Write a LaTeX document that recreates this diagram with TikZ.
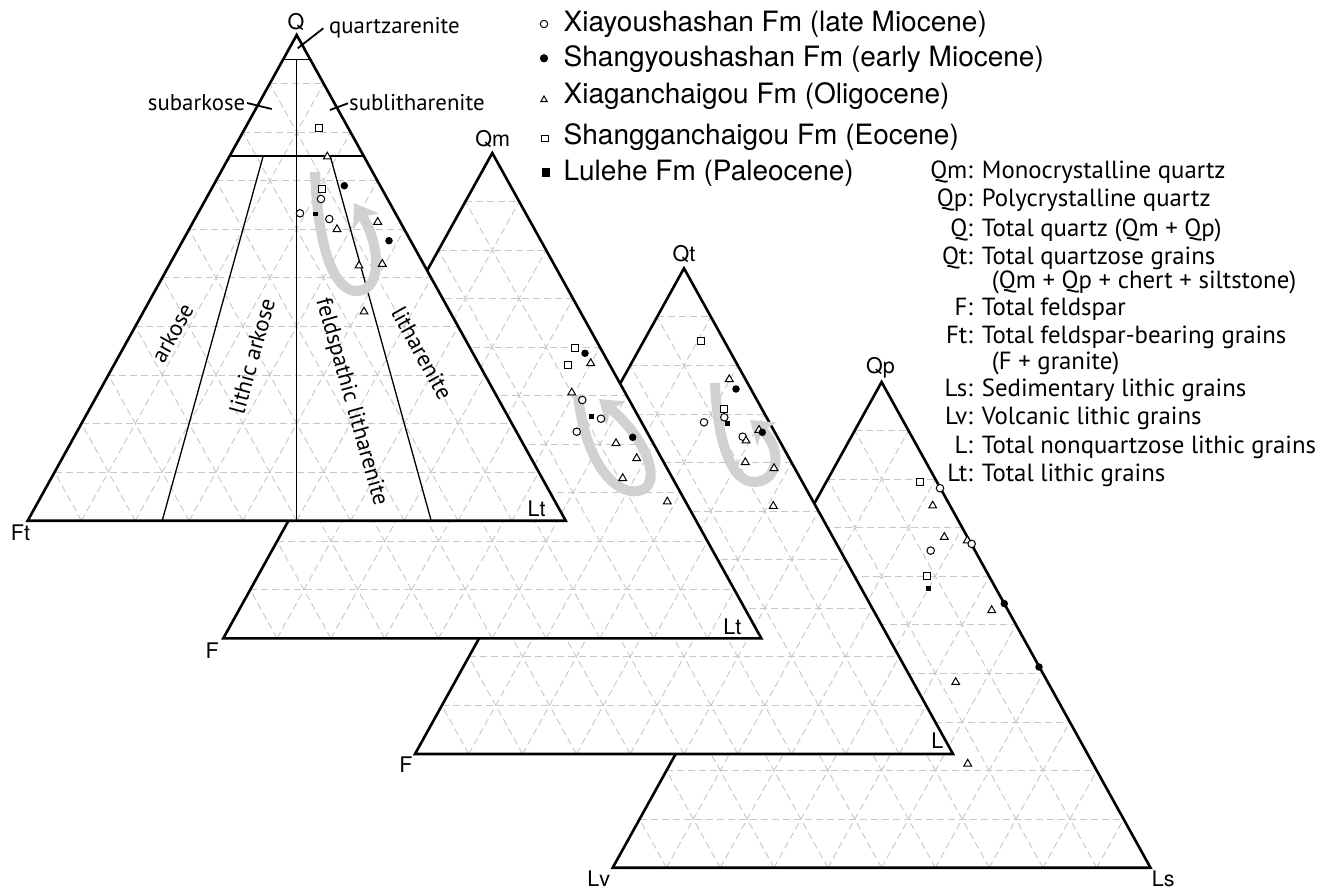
\documentclass[tikz,border=0pt]{standalone}
\usepackage{fontspec}
\setmainfont{TeX Gyre Heros}
\newfontfamily\myr{PT Sans}
\usetikzlibrary{calc,arrows.meta,shapes.geometric}
\definecolor{gridgray}{gray}{0.78}
\definecolor{arrgray}{gray}{0.82}
\tikzset{
  gridln/.style={draw=gridgray,line width=0.9pt,dash pattern=on 7pt off 4pt},
  triedge/.style={draw=black,line width=2.6pt},
  folkthin/.style={draw=black,line width=1.3pt},
  folkmid/.style={draw=black,line width=1.9pt},
  leader/.style={draw=black,line width=1.8pt},
  mkoc/.style={circle,draw,fill=white,line width=1pt,inner sep=0pt,minimum size=7.5pt},
  mkfc/.style={circle,fill=black,inner sep=0pt,minimum size=7.5pt},
  mktri/.style={regular polygon,regular polygon sides=3,draw,fill=white,line width=1pt,inner sep=0pt,minimum size=9pt},
  mksq/.style={rectangle,draw,fill=white,line width=1pt,inner sep=0pt,minimum size=7pt},
  mkfs/.style={rectangle,fill=black,inner sep=0pt,minimum size=4.5pt},
  garrow/.style={draw=arrgray,line width=10pt,-{Stealth[length=22pt 0 0,width=30pt 0 0,inset=6pt 0]}},
  vlab/.style={anchor=base,inner sep=0pt,font=\fontsize{21.5}{24}\selectfont},
  legtxt/.style={anchor=base west,inner sep=0pt,font=\fontsize{28}{32}\selectfont},
  folklab/.style={inner sep=0pt,font=\myr\fontsize{22.8}{26}\selectfont},
  glab/.style={anchor=base east,inner sep=0pt,font=\myr\fontsize{24.8}{28}\selectfont},
  gtxt/.style={anchor=base west,inner sep=0pt,font=\myr\fontsize{24.8}{28}\selectfont},
}
\newcommand\terntri[4]{%
  \coordinate (#1A) at #2;
  \coordinate (#1B) at #3;
  \coordinate (#1C) at #4;
  \fill[white] (#1A) -- (#1B) -- (#1C) -- cycle;
  \foreach \t in {0.1,0.2,0.3,0.4,0.5,0.6,0.7,0.8,0.9}{%
    \draw[gridln] ($(#1A)!\t!(#1B)$) -- ($(#1A)!\t!(#1C)$);
    \draw[gridln] ($(#1C)!\t!(#1B)$) -- ($(#1C)!\t!(#1A)$);
    \draw[gridln] ($(#1B)!\t!(#1C)$) -- ($(#1B)!\t!(#1A)$);
  }%
  \draw[triedge] (#1A) -- (#1B) -- (#1C) -- cycle;
}
\begin{document}
\begin{tikzpicture}[x=1pt,y=-1pt]
\useasboundingbox (0,0) rectangle (1336,889);

% ---------- triangle 4 (Qp - Lv - Ls), back ----------
\terntri{T4}{(881.6,382)}{(612.7,867.7)}{(1150.5,867.7)}
\foreach \s/\x/\y [count=\k] in {
  mksq/920/481.5, mktri/932.7/505.7, mktri/944.3/537.1, mktri/967.3/540.5,
  mkoc/940/488.2, mkoc/971.7/543.9, mkoc/930.7/550.6, mksq/927.3/576,
  mkfs/928.3/588.7, mkfc/1004.3/603.6, mktri/991.7/610.3, mkfc/1039/667,
  mktri/955.7/682.2, mktri/967.7/763.8}
  \node[\s] (d4p\k) at (\x,\y) {};
\node[vlab] (labQp) at (880.5,373.3) {Qp};
\node[vlab] (labLv) at (598.7,886.7) {Lv};
\node[vlab] (labLs) at (1163.3,886.3) {Ls};

% ---------- triangle 3 (Qt - F - L) ----------
\terntri{T3}{(684,268.3)}{(415,754)}{(953,754)}
\coordinate (a3s) at (715,383);
\coordinate (a3e) at (750,420);
\draw[garrow] (a3s) .. controls (718,452) and (735,484) .. (756,482) .. controls (781,479) and (781,446) .. (a3e);
\foreach \s/\x/\y [count=\k] in {
  mksq/701/341, mktri/729.3/379.3, mkfc/736/389, mksq/724/409,
  mkoc/724.3/417.3, mkfs/727.3/423.3, mkoc/704/422.3, mkoc/742.7/436.7,
  mktri/746/440.7, mktri/759/430, mkfc/762.3/432.3, mktri/745.3/462.3,
  mktri/774/468.3, mktri/773.3/506}
  \node[\s] (d3p\k) at (\x,\y) {};
\node[vlab] (labQt) at (684,261.7) {Qt};
\node[vlab] (labF3) at (406,772.7) {F};
\node[vlab] (labL3) at (937.3,748.7) {L};

% ---------- triangle 2 (Qm - F - Lt) ----------
\terntri{T2}{(492.3,153)}{(223.3,638.3)}{(761.3,638.3)}
\coordinate (a2s) at (578,395);
\coordinate (a2e) at (599,399);
\draw[garrow] (a2s) .. controls (585,462) and (615,495) .. (638,491) .. controls (664,487) and (648,440) .. (a2e);
\foreach \s/\x/\y [count=\k] in {
  mksq/575/348.3, mkfc/585/353.3, mktri/590.7/363.3, mksq/568.3/365,
  mktri/571.7/392.7, mkoc/582.3/400, mkfs/591.7/416.7, mkoc/601/418.7,
  mkoc/576.7/431.7, mkfc/632.7/437.3, mktri/616/443.3, mktri/636.7/458.3,
  mktri/622.7/478.3, mktri/667.3/501.7}
  \node[\s] (d2p\k) at (\x,\y) {};
\node[vlab] (labQm) at (492.7,146.7) {Qm};
\node[vlab] (labF2) at (212.3,658.3) {F};
\node[vlab] (labLt2) at (732.3,634.3) {Lt};

% ---------- triangle 1 (Q - Ft - Lt), front ----------
\terntri{T1}{(296.7,35)}{(27.7,520.7)}{(565.7,520.7)}
\coordinate (M1) at ($(T1B)!0.5!(T1C)$);
\coordinate (P1) at ($(T1B)!0.25!(T1C)$);
\coordinate (P2) at ($(T1B)!0.75!(T1C)$);
\draw[folkthin] ($(T1A)!0.05!(T1B)$) -- ($(T1A)!0.05!(T1C)$);
\draw[folkmid] ($(T1A)!0.25!(T1B)$) -- ($(T1A)!0.25!(T1C)$);
\draw[folkthin] ($(T1A)!0.05!(M1)$) -- (M1);
\draw[folkthin] ($(T1A)!0.25!(P1)$) -- (P1);
\draw[folkthin] ($(T1A)!0.25!(P2)$) -- (P2);
\coordinate (a1s) at (315,172);
\coordinate (a1e) at (354,203);
\draw[garrow] (a1s) .. controls (318,250) and (335,293) .. (358,291) .. controls (383,289) and (380,244) .. (a1e);
\foreach \s/\x/\y [count=\k] in {
  mksq/319.3/128.3, mktri/327.3/156.7, mkfc/344.3/185.7, mksq/322.3/188.5,
  mkoc/321/199, mkoc/300/213.3, mkfs/315.5/214, mkoc/329.3/219,
  mktri/337/229.3, mktri/377.7/222, mkfc/389/240.7, mktri/359/265.7,
  mktri/382.3/264, mktri/364/311.7}
  \node[\s] (d1p\k) at (\x,\y) {};
\node[vlab] (labQ) at (296,29.3) {Q};
\node[vlab] (labFt) at (20.5,540.7) {Ft};
\node[vlab] (labLt1) at (536.7,516.7) {Lt};

% Folk classification labels
\coordinate (qzA) at (297.7,48.3);
\coordinate (qzB) at (323.3,28.3);
\draw[leader] (qzA) -- (qzB);
\node[folklab,anchor=base west] (quartzarenite) at (329,33.3) {quartzarenite};
\coordinate (saA) at (247,103);
\coordinate (saB) at (271.7,109);
\draw[leader] (saA) -- (saB);
\node[folklab,anchor=base east] (subarkose) at (245.5,110) {subarkose};
\coordinate (slA) at (330,110);
\coordinate (slB) at (348,103.3);
\draw[leader] (slA) -- (slB);
\node[folklab,anchor=base west] (sublitharenite) at (349,110) {sublitharenite};
\node[folklab,rotate=61] (arkose) at (172.3,333) {arkose};
\node[folklab,rotate=74.6] (lithicarkose) at (252,356) {lithic arkose};
\node[folklab,rotate=-74.2] (feldlith) at (351,402) {feldspathic litharenite};
\node[folklab,rotate=-61] (litharenite) at (422,353) {litharenite};

% ---------- legend ----------
\node[mkoc,minimum size=7.5pt] (lm1) at (544,24) {};
\node[mkfc,minimum size=8.3pt] (lm2) at (544,58.3) {};
\node[mktri,minimum size=7.5pt] (lm3) at (544,99.8) {};
\node[mksq,minimum size=6.5pt] (lm4) at (545,138.3) {};
\node[mkfs,minimum size=8.3pt] (lm5) at (546,172.5) {};
\node[legtxt] (lt1) at (563.5,31.7) {Xiayoushashan Fm (late Miocene)};
\node[legtxt] (lt2) at (563.5,66.7) {Shangyoushashan Fm (early Miocene)};
\node[legtxt] (lt3) at (563.5,103.3) {Xiaganchaigou Fm (Oligocene)};
\node[legtxt] (lt4) at (563.5,144) {Shangganchaigou Fm (Eocene)};
\node[legtxt] (lt5) at (563.5,180) {Lulehe Fm (Paleocene)};

% ---------- glossary ----------
\node[glab] (g1) at (973,178.3) {Qm:};
\node[gtxt] (h1) at (981.7,178.3) {Monocrystalline quartz};
\node[glab] (g2) at (973,206.7) {Qp:};
\node[gtxt] (h2) at (981.7,206.7) {Polycrystalline quartz};
\node[glab] (g3) at (973,236.7) {Q:};
\node[gtxt] (h3) at (981.7,236.7) {Total quartz (Qm + Qp)};
\node[glab] (g4) at (973,264) {Qt:};
\node[gtxt] (h4) at (981.7,264) {Total quartzose grains};
\node[gtxt] (h4b) at (991.7,288.3) {(Qm + Qp + chert + siltstone)};
\node[glab] (g5) at (973,315.7) {F:};
\node[gtxt] (h5) at (981.7,315.7) {Total feldspar};
\node[glab] (g6) at (973,343.3) {Ft:};
\node[gtxt] (h6) at (981.7,343.3) {Total feldspar-bearing grains};
\node[gtxt] (h6b) at (991.7,369.3) {(F + granite)};
\node[glab] (g7) at (973,396.3) {Ls:};
\node[gtxt] (h7) at (981.7,396.3) {Sedimentary lithic grains};
\node[glab] (g8) at (973,424) {Lv:};
\node[gtxt] (h8) at (981.7,424) {Volcanic lithic grains};
\node[glab] (g9) at (973,453.3) {L:};
\node[gtxt] (h9) at (981.7,453.3) {Total nonquartzose lithic grains};
\node[glab] (g10) at (973,481.7) {Lt:};
\node[gtxt] (h10) at (981.7,481.7) {Total lithic grains};
\end{tikzpicture}
\end{document}
